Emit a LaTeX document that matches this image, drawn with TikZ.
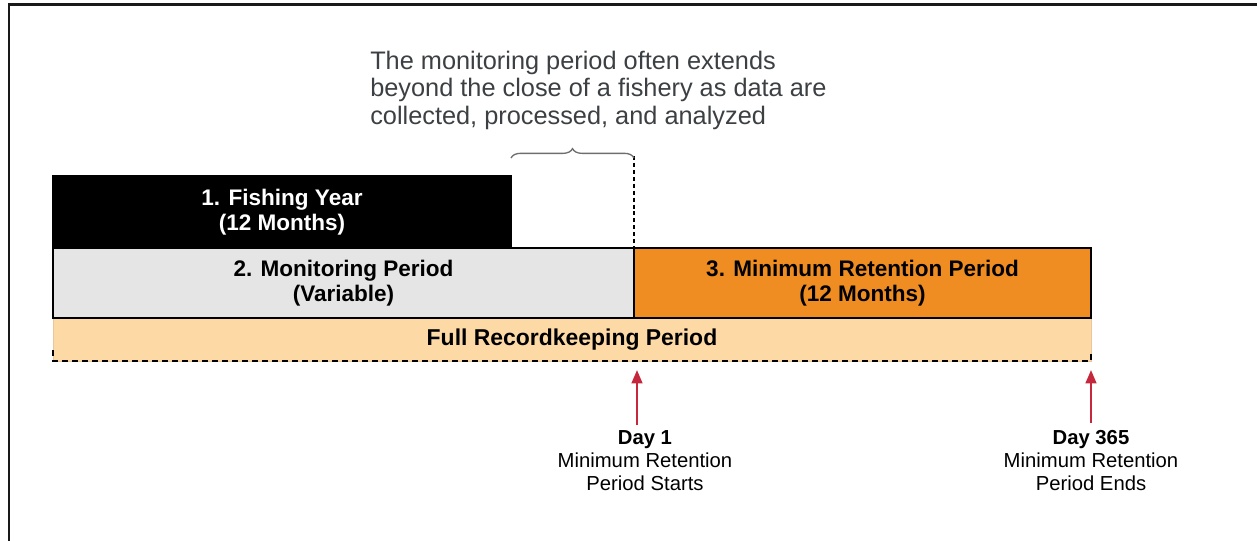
\documentclass[tikz,border=0pt]{standalone}
\usepackage{fontspec}
\setmainfont{Liberation Sans}
\usetikzlibrary{decorations.pathreplacing,arrows.meta}
\definecolor{gfill}{HTML}{E5E5E5}
\definecolor{ofill}{HTML}{EF8D22}
\definecolor{lfill}{HTML}{FDD9A6}
\definecolor{lborder}{HTML}{E8C89A}
\definecolor{arrred}{HTML}{C5283D}
\definecolor{notegray}{HTML}{3C4043}
\definecolor{bracegray}{HTML}{6E6E6E}
\tikzset{
  period/.style={draw=black, line width=1.5pt, inner sep=0pt, outer sep=0pt, align=center, anchor=north west,
    font=\fontsize{16.9}{18.8}\selectfont\bfseries},
  daylabel/.style={align=center, inner sep=0pt, font=\fontsize{15.2}{17.25}\selectfont},
  redarrow/.style={draw=arrred, line width=1.7pt, -{Triangle[length=10pt,width=8pt]}},
}
\begin{document}
\begin{tikzpicture}[x=0.75pt,y=-0.75pt]
\useasboundingbox (0,0) rectangle (1257,540);
% frame
\draw[line width=2.2pt, black!90] (9,541) -- (9,4.5) -- (1258,4.5);
% full recordkeeping band
\node[anchor=north west, fill=lfill, draw=lborder, line width=0.6pt, inner sep=0pt, outer sep=0pt,
  minimum width=1038*0.75pt, minimum height=43*0.75pt,
  font=\fontsize{17.2}{19}\selectfont\bfseries] (full) at (53,318) {Full Recordkeeping Period};
\draw[dashed, dash pattern=on 4.5pt off 3pt, line width=1.3pt] (53,350) -- (53,361) -- (1091,361) -- (1091,350);
% fishing year
\node[period, fill=black, text=white, minimum width=458*0.75pt, minimum height=72*0.75pt] (fy) at (53,176)
  {1. Fishing Year\\(12 Months)};
% monitoring
\node[period, fill=gfill, minimum width=581*0.75pt, minimum height=70*0.75pt] (mp) at (53,248)
  {2. Monitoring Period\\(Variable)};
% retention
\node[period, fill=ofill, minimum width=457*0.75pt, minimum height=70*0.75pt] (rp) at (634,248)
  {3. Minimum Retention Period\\(12 Months)};
% dashed divider
\coordinate (dtop) at (634,156);
\draw[dashed, dash pattern=on 3pt off 2.2pt, line width=1.2pt] (dtop) -- (rp.north west);
% brace
\coordinate (bl) at (511,158);
\coordinate (br) at (634,158);
\draw[bracegray, line width=1pt, decorate, decoration={brace, amplitude=7pt}] (bl) -- (br);
% note
\node[anchor=west, align=left, inner sep=0pt, text=notegray,
  font=\fontsize{19}{20.6}\selectfont] (note) at (370,90)
  {The monitoring period often extends\\beyond the close of a fishery as data are\\collected, processed, and analyzed};
% day labels
\node[daylabel] (d1) at (645,461) {\textbf{Day 1}\\Minimum Retention\\Period Starts};
\node[daylabel] (d365) at (1091,461) {\textbf{Day 365}\\Minimum Retention\\Period Ends};
% arrows
\coordinate (a1s) at (637,425);
\coordinate (a1e) at (637,370);
\coordinate (a2s) at (1091,423);
\coordinate (a2e) at (1091,370);
\draw[redarrow] (a1s) -- (a1e);
\draw[redarrow] (a2s) -- (a2e);
\end{tikzpicture}
\end{document}
